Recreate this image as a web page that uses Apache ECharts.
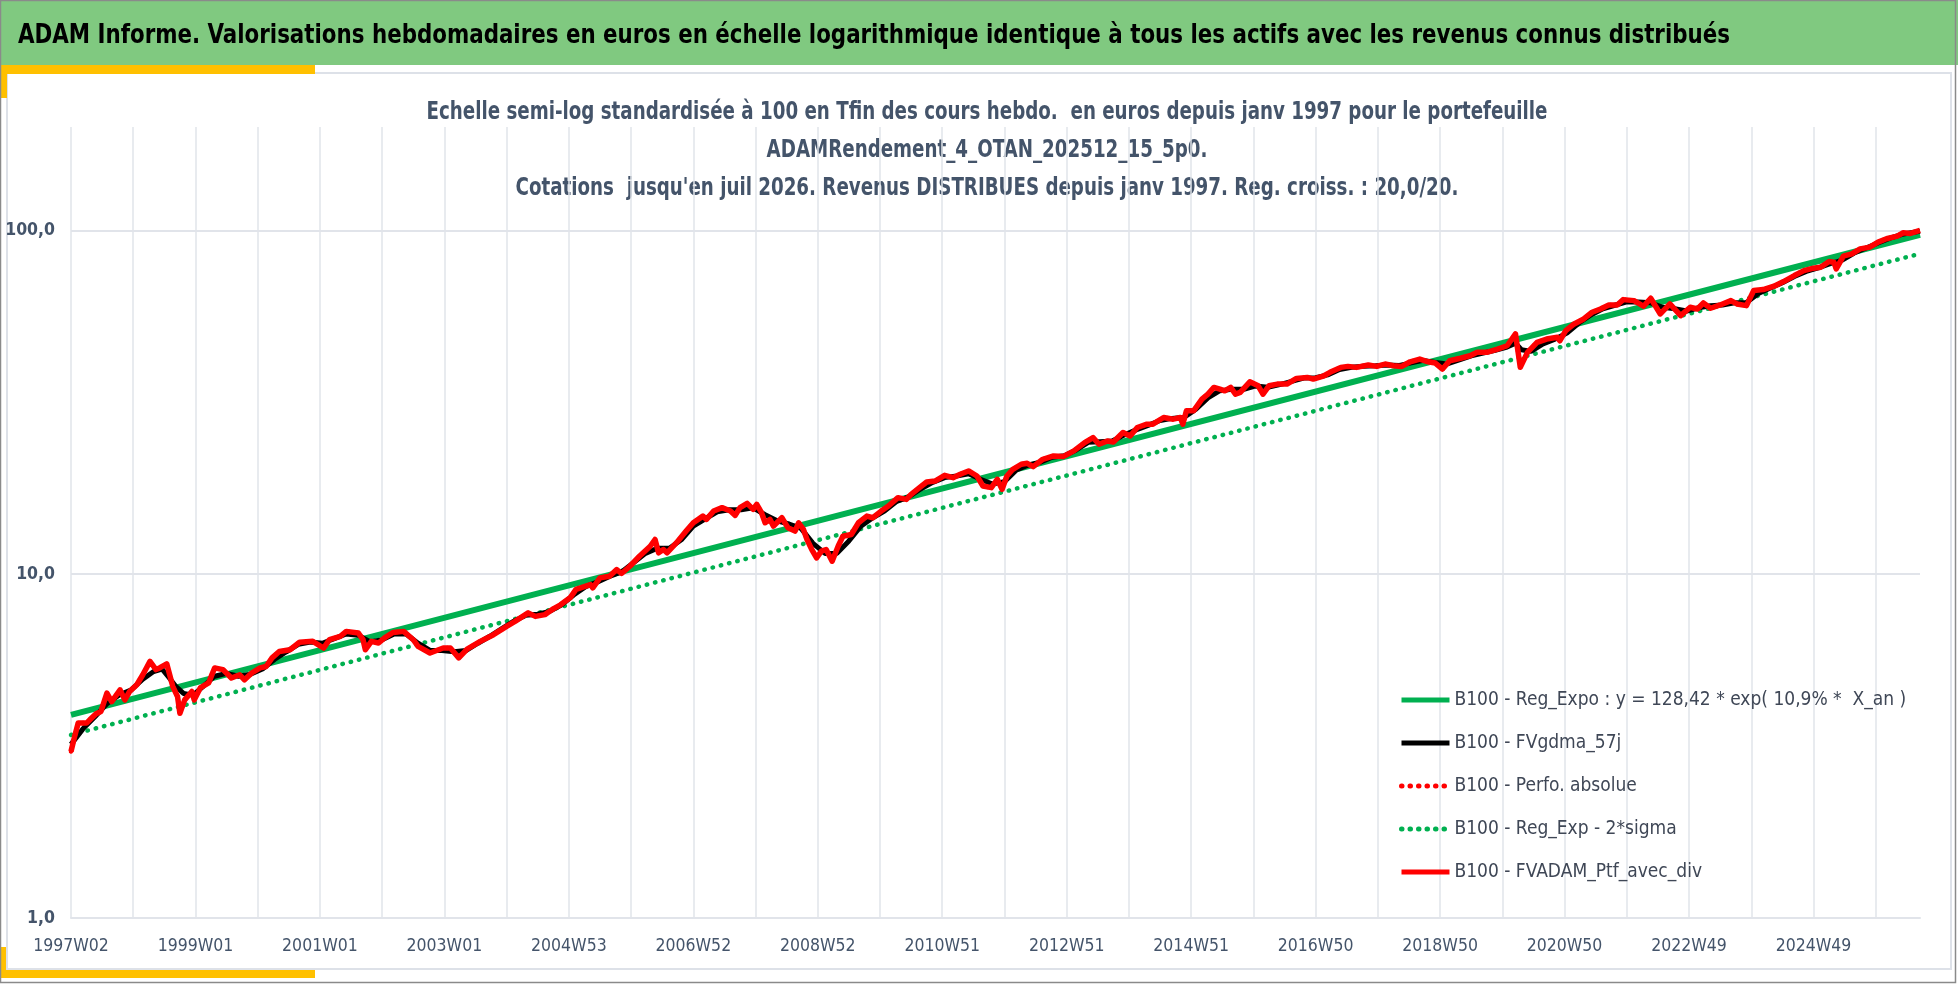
<!DOCTYPE html>
<html>
<head>
<meta charset="utf-8">
<title>ADAM Informe</title>
<script src="https://cdn.jsdelivr.net/npm/echarts@6.0.0/dist/echarts.min.js"></script>
<style>
  html, body { margin: 0; padding: 0; background: #fff; }
  #chart { width: 1958px; height: 984px; }
</style>
</head>
<body>
<div id="chart"></div>
<script>
// semaines ISO depuis 1997W02 (lundi 6 janv 1997)
var startMonday = Date.UTC(1997, 0, 6);
var nWeeks = 1546;

// FVADAM_Ptf_avec_div : [semaine, valeur B100]
var ptfWeeks = [0, 3, 6, 13, 17, 21, 25, 30, 34, 41, 45, 49, 55, 60, 66, 71, 74, 80, 85, 89,
  91, 95, 101, 103, 108, 115, 120, 127, 134, 141, 145, 151, 158, 163, 168, 174, 183, 191, 202, 211,
  216, 225, 230, 240, 244, 246, 251, 257, 262, 269, 278, 286, 290, 300, 311, 317, 324, 331, 342, 353,
  364, 371, 382, 388, 396, 400, 403, 409, 417, 422, 434, 436, 442, 450, 456, 460, 467, 475, 484, 488,
  491, 495, 498, 506, 514, 520, 528, 531, 537, 544, 551, 555, 559, 565, 570, 573, 577, 580, 584, 587,
  594, 599, 605, 608, 612, 615, 619, 623, 627, 631, 636, 641, 645, 652, 658, 665, 670, 677, 683, 691,
  698, 702, 709, 715, 722, 730, 737, 743, 750, 757, 762, 769, 774, 778, 782, 787, 794, 799, 804, 812,
  821, 829, 838, 847, 854, 859, 866, 871, 879, 885, 891, 899, 904, 913, 921, 927, 929, 932, 938, 945,
  950, 955, 960, 964, 969, 973, 977, 985, 992, 996, 1001, 1008, 1016, 1024, 1033, 1038, 1047, 1052, 1061, 1067,
  1074, 1084, 1091, 1098, 1105, 1112, 1119, 1127, 1134, 1140, 1146, 1152, 1161, 1169, 1175, 1183, 1192, 1200, 1207, 1211,
  1217, 1225, 1233, 1242, 1244, 1249, 1256, 1264, 1271, 1278, 1285, 1292, 1297, 1306, 1314, 1320, 1328, 1336, 1345, 1353,
  1359, 1364, 1370, 1378, 1387, 1392, 1400, 1406, 1414, 1423, 1431, 1440, 1448, 1456, 1462, 1469, 1473, 1475, 1481, 1488,
  1495, 1503, 1510, 1517, 1526, 1531, 1537, 1545];
var ptfValues = [3.05, 3.37, 3.69, 3.69, 3.81, 3.93, 3.99, 4.51, 4.26, 4.61, 4.31, 4.56, 4.77, 5.10, 5.58, 5.28, 5.34, 5.49, 4.72, 4.41,
  3.94, 4.31, 4.56, 4.31, 4.67, 4.83, 5.34, 5.28, 4.99, 5.10, 4.93, 5.16, 5.34, 5.39, 5.71, 5.96, 6.03, 6.34, 6.38, 6.10,
  6.45, 6.60, 6.82, 6.75, 6.45, 6.03, 6.38, 6.31, 6.53, 6.77, 6.82, 6.45, 6.17, 5.90, 6.10, 6.10, 5.71, 6.06, 6.38, 6.67,
  7.05, 7.29, 7.72, 7.54, 7.63, 7.80, 7.93, 8.15, 8.54, 9.03, 9.33, 9.13, 9.76, 9.87, 10.32, 10.05, 10.55, 11.28, 12.06, 12.62,
  11.54, 11.80, 11.54, 12.35, 13.35, 14.12, 14.76, 14.44, 15.27, 15.62, 15.27, 14.83, 15.62, 16.07, 15.44, 15.97, 15.10, 14.12, 14.44, 13.80,
  14.60, 13.66, 13.35, 14.12, 13.50, 12.62, 11.80, 11.16, 11.67, 11.80, 10.91, 12.06, 12.90, 13.05, 14.12, 14.76, 14.60, 15.27, 15.79, 16.70,
  16.51, 17.08, 17.86, 18.55, 18.67, 19.40, 19.10, 19.53, 19.97, 19.31, 18.06, 17.86, 18.89, 17.66, 19.31, 20.20, 20.89, 21.02, 20.56, 21.60,
  22.08, 21.99, 22.84, 24.16, 24.98, 23.88, 24.42, 24.25, 25.84, 25.25, 26.72, 27.32, 27.32, 28.58, 28.25, 28.58, 27.32, 29.87, 29.87, 32.31,
  33.41, 34.95, 34.55, 34.16, 34.95, 33.41, 33.80, 36.29, 35.33, 33.41, 35.33, 35.74, 35.74, 37.13, 37.38, 36.95, 37.79, 38.66, 39.97, 40.24,
  39.97, 40.60, 40.24, 40.87, 40.40, 40.24, 41.50, 42.27, 41.50, 41.15, 39.52, 41.79, 42.50, 43.21, 44.21, 44.21, 45.20, 46.21, 50.00, 40.00,
  44.21, 47.28, 48.33, 48.89, 47.78, 51.10, 53.46, 55.29, 57.83, 59.12, 60.73, 60.73, 62.93, 62.51, 60.20, 63.53, 57.17, 61.14, 56.52, 59.80,
  59.12, 61.54, 59.40, 60.73, 62.51, 61.14, 60.44, 66.87, 67.30, 68.86, 71.02, 73.94, 76.42, 77.67, 78.20, 81.20, 80.88, 77.30, 84.21, 85.52,
  88.42, 89.44, 92.53, 94.60, 96.32, 98.47, 98.00, 100.0];

// FVgdma_57j (moyenne mobile, plus lisse)
var gdmaWeeks = [0, 10, 20, 30, 40, 50, 60, 69, 76, 82, 88, 94, 102, 110, 120, 130, 140, 150, 160, 170,
  180, 190, 200, 210, 220, 230, 240, 250, 260, 270, 280, 290, 300, 310, 320, 330, 340, 350, 360, 370,
  380, 390, 400, 410, 420, 430, 440, 450, 460, 470, 480, 490, 500, 510, 520, 530, 540, 550, 560, 570,
  580, 590, 600, 610, 620, 630, 640, 650, 660, 670, 680, 690, 700, 710, 720, 730, 740, 750, 760, 770,
  780, 790, 800, 810, 820, 830, 840, 850, 860, 870, 880, 890, 900, 910, 920, 930, 940, 950, 960, 970,
  980, 990, 1000, 1010, 1020, 1030, 1040, 1050, 1060, 1070, 1080, 1090, 1100, 1110, 1120, 1130, 1140, 1150, 1160, 1170,
  1180, 1190, 1200, 1207, 1212, 1220, 1230, 1240, 1250, 1260, 1270, 1280, 1290, 1300, 1310, 1320, 1330, 1340, 1350, 1360,
  1370, 1380, 1390, 1400, 1410, 1420, 1430, 1440, 1450, 1460, 1470, 1480, 1490, 1500, 1510, 1520, 1530, 1545];
var gdmaValues = [3.2, 3.55, 3.85, 4.2, 4.45, 4.6, 4.95, 5.21, 5.3, 5.0, 4.7, 4.5, 4.45, 4.7, 5.05, 5.15, 5.05, 5.12, 5.3, 5.65,
  5.95, 6.25, 6.35, 6.3, 6.5, 6.7, 6.65, 6.35, 6.45, 6.7, 6.7, 6.3, 6.0, 6.0, 5.95, 6.0, 6.3, 6.6, 6.95, 7.3,
  7.6, 7.65, 7.8, 8.15, 8.7, 9.2, 9.5, 9.85, 10.15, 10.8, 11.5, 11.9, 11.9, 12.6, 13.8, 14.5, 15.2, 15.4, 15.4, 15.6,
  14.9, 14.3, 14.0, 13.6, 12.3, 11.5, 11.5, 12.5, 13.8, 14.6, 15.3, 16.3, 16.8, 17.7, 18.5, 19.1, 19.3, 19.6, 18.9, 18.3,
  18.6, 20.1, 20.8, 21.2, 21.9, 22.1, 23.0, 24.2, 24.3, 24.4, 25.4, 26.3, 27.1, 28.0, 28.4, 28.6, 30.2, 32.6, 34.2, 34.5,
  34.5, 35.3, 35.0, 35.6, 36.4, 37.2, 37.3, 38.0, 39.4, 40.0, 40.3, 40.4, 40.6, 40.5, 41.2, 41.9, 41.3, 40.9, 42.0, 43.2,
  44.0, 44.8, 45.8, 47.0, 45.0, 44.5, 46.8, 48.3, 50.3, 53.8, 56.8, 59.2, 60.6, 62.0, 61.9, 61.6, 59.8, 59.2, 58.3, 59.6,
  60.4, 60.7, 61.6, 61.7, 65.6, 68.0, 70.5, 73.5, 76.0, 77.8, 80.1, 82.0, 86.0, 88.9, 92.0, 95.0, 97.5, 99.5];

// droites de regression
var regWeeks = [0, 392, 1545];
var regValues = [3.90, 8.83, 97.2];
var sigmaWeeks = [0, 417, 1545];
var sigmaValues = [3.41, 8.16, 85.6];

var seriesNames = [
  'B100 - Reg_Expo : y = 128,42 * exp( 10,9% *  X_an )',
  'B100 - FVgdma_57j',
  'B100 - Perfo. absolue',
  'B100 - Reg_Exp - 2*sigma',
  'B100 - FVADAM_Ptf_avec_div'
];
var headerText = 'ADAM Informe. Valorisations hebdomadaires en euros en échelle logarithmique identique à tous les actifs avec les revenus connus distribués';
var titleLines = [
  'Echelle semi-log standardisée à 100 en Tfin des cours hebdo.  en euros depuis janv 1997 pour le portefeuille',
  'ADAMRendement_4_OTAN_202512_15_5p0.',
  'Cotations  jusqu\'en juil 2026. Revenus DISTRIBUES depuis janv 1997. Reg. croiss. : 20,0/20.'
];

function isoWeek(ms) {
  var t = new Date(ms);
  var day = t.getUTCDay() || 7;
  t.setUTCDate(t.getUTCDate() + 4 - day);
  var y = t.getUTCFullYear();
  var w = Math.ceil(((t - Date.UTC(y, 0, 1)) / 86400000 + 1) / 7);
  return y + 'W' + (w < 10 ? '0' + w : w);
}
var categories = [];
for (var k = 0; k < nWeeks; k++) categories.push(isoWeek(startMonday + k * 7 * 86400000));

function pairs(ws, vs) { return ws.map(function (w, i) { return [w, vs[i]]; }); }

// police étroite façon Calibri : on prend la première installée
var ctx = document.createElement('canvas').getContext('2d');
function hasFont(f) {
  var s = 'mmmmmmmmmwwwlli10WW';
  ctx.font = '40px monospace';
  var a = ctx.measureText(s).width;
  ctx.font = '40px "' + f + '", monospace';
  return ctx.measureText(s).width !== a;
}
var family = ['Liberation Sans Narrow', 'DejaVu Sans Condensed', 'Liberation Sans'].filter(hasFont)[0] || 'sans-serif';
var FONT = '"' + family + '", sans-serif';
function textWidth(text, font) { ctx.font = font; return ctx.measureText(text).width; }

// en-tête et titre : taille d'après la hauteur, compression horizontale d'après la largeur
var headerFont = 'bold 26px ' + FONT;
var headerScale = 1712 / textWidth(headerText, headerFont);
var titleFont = 'bold 24px ' + FONT;
var titleScale = 1121 / textWidth(titleLines[0], titleFont);

var TXT = '#44546A';

var chart = echarts.init(document.getElementById('chart'));
chart.setOption({
  animation: false,
  backgroundColor: '#fff',
  textStyle: { fontFamily: FONT },
  graphic: [
    { type: 'rect', shape: { x: 7, y: 73, width: 1944, height: 896 }, style: { fill: '#fff', stroke: '#DDE1E8', lineWidth: 2 }, z: -10 },
    { type: 'rect', shape: { x: 0, y: 0, width: 1958, height: 65 }, style: { fill: '#80C980' } },
    { type: 'text', x: 18, y: 36, scaleX: headerScale, style: { x: 0, y: 0, text: headerText, font: headerFont, fill: '#000', align: 'left', verticalAlign: 'middle' } },
    { type: 'text', x: 987, y: 112.5, scaleX: titleScale, style: { x: 0, y: 0, text: titleLines[0], font: titleFont, fill: TXT, align: 'center', verticalAlign: 'middle' } },
    { type: 'text', x: 987, y: 151, scaleX: titleScale, style: { x: 0, y: 0, text: titleLines[1], font: titleFont, fill: TXT, align: 'center', verticalAlign: 'middle' } },
    { type: 'text', x: 987, y: 188.5, scaleX: titleScale, style: { x: 0, y: 0, text: titleLines[2], font: titleFont, fill: TXT, align: 'center', verticalAlign: 'middle' } },
    { type: 'rect', shape: { x: 0, y: 65, width: 315, height: 9 }, style: { fill: '#FFC000' } },
    { type: 'rect', shape: { x: 0, y: 65, width: 7, height: 33 }, style: { fill: '#FFC000' } },
    { type: 'rect', shape: { x: 0, y: 947, width: 6, height: 31 }, style: { fill: '#FFC000' } },
    { type: 'rect', shape: { x: 0, y: 970, width: 315, height: 8 }, style: { fill: '#FFC000' } },
    { type: 'rect', shape: { x: 0.5, y: 0.5, width: 1955, height: 982 }, style: { fill: 'none', stroke: '#8A8A8A', lineWidth: 1.5 } }
  ],
  legend: {
    data: seriesNames,
    orient: 'vertical',
    left: 1399,
    top: 689,
    padding: 0,
    itemWidth: 48,
    itemHeight: 14,
    itemGap: 21,
    itemStyle: { opacity: 0 },
    lineStyle: { width: 5 },
    textStyle: { fontFamily: FONT, fontSize: 19, lineHeight: 22, color: '#3F4756' }
  },
  grid: { left: 71, right: 38, top: 127, bottom: 66, containLabel: false },
  xAxis: {
    type: 'category',
    data: categories,
    boundaryGap: false,
    axisLine: { show: true, lineStyle: { color: '#E1E4EA', width: 2 } },
    axisTick: { show: false },
    axisLabel: { interval: 103, margin: 19, fontFamily: FONT, fontSize: 17.5, color: TXT },
    splitLine: { show: true, interval: 51, lineStyle: { color: '#E1E4EA', width: 1.5 } }
  },
  yAxis: {
    type: 'log',
    logBase: 10,
    min: 1,
    max: 200,
    axisLine: { show: false },
    axisTick: { show: false },
    axisLabel: {
      showMaxLabel: false,
      margin: 16,
      fontFamily: FONT, fontSize: 17.5, fontWeight: 'bold', color: TXT,
      formatter: function (v) { return v.toFixed(1).replace('.', ','); }
    },
    splitLine: { show: true, showMaxLine: false, lineStyle: { color: '#E1E4EA', width: 2 } }
  },
  series: [
    { name: seriesNames[0], type: 'line', data: pairs(regWeeks, regValues), showSymbol: false, symbol: 'none', z: 2,
      lineStyle: { color: '#00B050', width: 6 }, itemStyle: { color: '#00B050' } },
    { name: seriesNames[1], type: 'line', data: pairs(gdmaWeeks, gdmaValues), showSymbol: false, symbol: 'none', z: 4,
      lineStyle: { color: '#000', width: 5 }, itemStyle: { color: '#000' } },
    { name: seriesNames[2], type: 'line', data: pairs(ptfWeeks, ptfValues), showSymbol: false, symbol: 'none', z: 4,
      lineStyle: { color: '#FF0000', width: 4.5, type: [0.5, 8], cap: 'round' }, itemStyle: { color: '#FF0000' } },
    { name: seriesNames[3], type: 'line', data: pairs(sigmaWeeks, sigmaValues), showSymbol: false, symbol: 'none', z: 3,
      lineStyle: { color: '#00B050', width: 4.5, type: [0.5, 8], cap: 'round' }, itemStyle: { color: '#00B050' } },
    { name: seriesNames[4], type: 'line', data: pairs(ptfWeeks, ptfValues), showSymbol: false, symbol: 'none', z: 5,
      lineStyle: { color: '#FF0000', width: 5.5, join: 'round' }, itemStyle: { color: '#FF0000' } }
  ]
});
</script>
</body>
</html>
